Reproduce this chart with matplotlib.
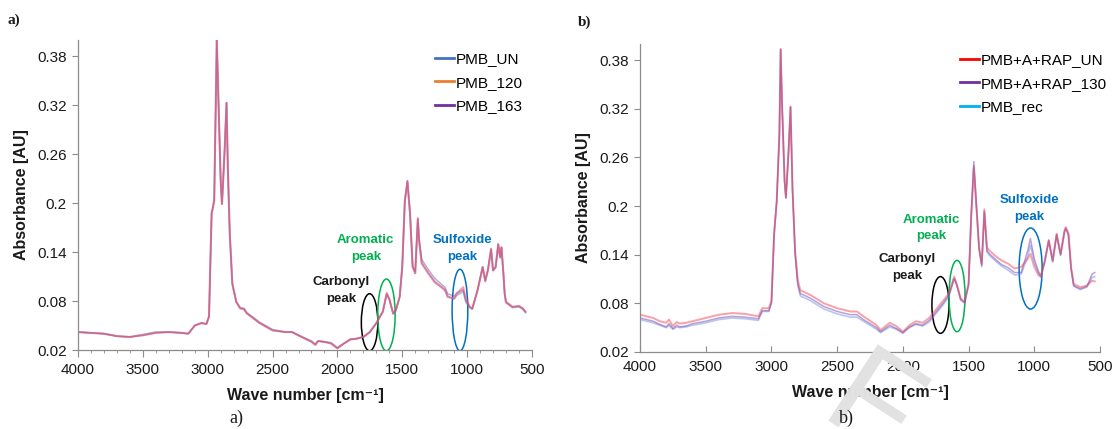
import matplotlib
matplotlib.use("Agg")
import matplotlib.pyplot as plt
from matplotlib.patches import Ellipse
from matplotlib.lines import Line2D

plt.rcParams['font.family'] = ['Liberation Sans', 'DejaVu Sans']

# ---------------- data: panel a ----------------
wn_a = [4000, 3900, 3800, 3700, 3600, 3500, 3400, 3300, 3200, 3150,
        3100, 3050, 3010, 2990, 2970, 2950, 2930, 2920, 2900, 2890,
        2870, 2855, 2845, 2830, 2810, 2780, 2750, 2720, 2700, 2600,
        2500, 2400, 2350, 2300, 2200, 2170, 2150, 2100, 2050, 2000,
        1950, 1900, 1850, 1800, 1750, 1700, 1650, 1620, 1600, 1570,
        1550, 1520, 1500, 1480, 1460, 1440, 1420, 1400, 1380, 1370,
        1350, 1300, 1250, 1200, 1170, 1150, 1100, 1080, 1030, 1010,
        980, 960, 920, 880, 860, 840, 815, 800, 780, 760,
        745, 735, 720, 710, 700, 650, 600, 570, 550]

pmb_un = [0.042, 0.041, 0.040, 0.037, 0.036, 0.039, 0.042, 0.042, 0.041, 0.040,
          0.050, 0.053, 0.052, 0.061, 0.187, 0.203, 0.400, 0.341, 0.227, 0.199,
          0.264, 0.323, 0.244, 0.162, 0.101, 0.079, 0.072, 0.071, 0.066, 0.054,
          0.045, 0.042, 0.042, 0.038, 0.031, 0.027, 0.031, 0.030, 0.029, 0.023,
          0.028, 0.033, 0.034, 0.036, 0.042, 0.053, 0.067, 0.088, 0.082, 0.064,
          0.068, 0.085, 0.122, 0.203, 0.226, 0.187, 0.122, 0.114, 0.180, 0.154,
          0.127, 0.115, 0.104, 0.098, 0.094, 0.086, 0.083, 0.087, 0.092, 0.079,
          0.072, 0.070, 0.093, 0.121, 0.104, 0.117, 0.143, 0.117, 0.121, 0.149,
          0.133, 0.145, 0.113, 0.088, 0.078, 0.072, 0.073, 0.070, 0.066]

pmb_120 = [0.042, 0.041, 0.040, 0.037, 0.036, 0.038, 0.041, 0.042, 0.041, 0.040,
           0.050, 0.053, 0.052, 0.061, 0.187, 0.203, 0.400, 0.341, 0.227, 0.199,
           0.264, 0.323, 0.244, 0.162, 0.101, 0.079, 0.071, 0.070, 0.065, 0.053,
           0.044, 0.042, 0.042, 0.038, 0.030, 0.026, 0.031, 0.030, 0.028, 0.022,
           0.028, 0.033, 0.034, 0.036, 0.042, 0.053, 0.067, 0.090, 0.083, 0.065,
           0.069, 0.085, 0.122, 0.203, 0.227, 0.187, 0.122, 0.114, 0.181, 0.154,
           0.126, 0.114, 0.103, 0.097, 0.093, 0.085, 0.083, 0.089, 0.097, 0.083,
           0.073, 0.071, 0.093, 0.122, 0.105, 0.118, 0.144, 0.118, 0.122, 0.150,
           0.134, 0.146, 0.114, 0.089, 0.079, 0.073, 0.074, 0.071, 0.067]

pmb_163 = [0.042, 0.041, 0.040, 0.037, 0.036, 0.038, 0.041, 0.042, 0.041, 0.040,
           0.050, 0.053, 0.052, 0.061, 0.187, 0.203, 0.400, 0.341, 0.227, 0.199,
           0.264, 0.323, 0.244, 0.162, 0.101, 0.079, 0.071, 0.070, 0.065, 0.053,
           0.044, 0.042, 0.042, 0.038, 0.030, 0.027, 0.031, 0.030, 0.028, 0.022,
           0.028, 0.033, 0.034, 0.036, 0.042, 0.053, 0.067, 0.089, 0.083, 0.065,
           0.069, 0.085, 0.122, 0.203, 0.228, 0.188, 0.123, 0.116, 0.182, 0.156,
           0.131, 0.119, 0.108, 0.101, 0.097, 0.089, 0.086, 0.090, 0.094, 0.081,
           0.073, 0.071, 0.093, 0.122, 0.105, 0.118, 0.144, 0.118, 0.122, 0.150,
           0.134, 0.146, 0.114, 0.089, 0.079, 0.073, 0.074, 0.071, 0.067]

# ---------------- data: panel b ----------------
wn_b = [4000, 3950, 3900, 3850, 3800, 3780, 3750, 3720, 3700, 3650,
        3600, 3500, 3400, 3300, 3200, 3100, 3070, 3020, 3000, 2980,
        2960, 2940, 2930, 2920, 2900, 2890, 2870, 2855, 2840, 2820,
        2800, 2780, 2750, 2700, 2600, 2500, 2400, 2350, 2300, 2200,
        2170, 2100, 2050, 2000, 1950, 1900, 1850, 1800, 1750, 1700,
        1650, 1610, 1590, 1560, 1530, 1500, 1480, 1460, 1440, 1420,
        1400, 1380, 1360, 1340, 1300, 1250, 1200, 1150, 1100, 1050,
        1030, 1000, 970, 950, 920, 890, 860, 830, 800, 770,
        760, 740, 720, 700, 650, 600, 560, 540]

rap_un = [0.066, 0.064, 0.062, 0.058, 0.056, 0.060, 0.052, 0.057, 0.055, 0.056,
          0.058, 0.062, 0.066, 0.068, 0.067, 0.064, 0.074, 0.074, 0.084, 0.166,
          0.207, 0.288, 0.394, 0.329, 0.231, 0.211, 0.268, 0.323, 0.223, 0.145,
          0.109, 0.096, 0.094, 0.090, 0.080, 0.074, 0.070, 0.070, 0.064, 0.053,
          0.047, 0.056, 0.052, 0.045, 0.053, 0.058, 0.056, 0.062, 0.072, 0.082,
          0.092, 0.113, 0.104, 0.086, 0.082, 0.104, 0.186, 0.247, 0.198, 0.149,
          0.129, 0.196, 0.149, 0.145, 0.139, 0.133, 0.129, 0.123, 0.125, 0.135,
          0.141, 0.125, 0.115, 0.113, 0.133, 0.158, 0.133, 0.166, 0.141, 0.170,
          0.174, 0.166, 0.125, 0.104, 0.100, 0.102, 0.108, 0.107]

rap_130 = [0.062, 0.060, 0.058, 0.054, 0.051, 0.055, 0.049, 0.053, 0.051, 0.052,
           0.055, 0.058, 0.062, 0.064, 0.063, 0.061, 0.071, 0.071, 0.081, 0.165,
           0.206, 0.287, 0.393, 0.328, 0.230, 0.210, 0.267, 0.322, 0.221, 0.142,
           0.105, 0.092, 0.090, 0.086, 0.076, 0.070, 0.066, 0.066, 0.060, 0.050,
           0.045, 0.053, 0.049, 0.044, 0.051, 0.055, 0.053, 0.059, 0.069, 0.079,
           0.090, 0.111, 0.103, 0.085, 0.081, 0.104, 0.190, 0.255, 0.200, 0.148,
           0.127, 0.194, 0.145, 0.141, 0.135, 0.128, 0.124, 0.118, 0.118, 0.145,
           0.160, 0.135, 0.120, 0.114, 0.132, 0.158, 0.132, 0.165, 0.140, 0.169,
           0.173, 0.165, 0.123, 0.102, 0.098, 0.101, 0.116, 0.118]

pmb_rec = [0.060, 0.058, 0.056, 0.053, 0.050, 0.053, 0.048, 0.051, 0.050, 0.051,
           0.053, 0.056, 0.060, 0.062, 0.061, 0.059, 0.070, 0.070, 0.080, 0.164,
           0.205, 0.287, 0.393, 0.328, 0.230, 0.210, 0.267, 0.322, 0.220, 0.140,
           0.102, 0.089, 0.087, 0.083, 0.073, 0.067, 0.063, 0.063, 0.058, 0.048,
           0.044, 0.051, 0.048, 0.043, 0.050, 0.054, 0.052, 0.057, 0.067, 0.077,
           0.088, 0.110, 0.102, 0.084, 0.080, 0.103, 0.188, 0.250, 0.198, 0.146,
           0.125, 0.192, 0.143, 0.139, 0.133, 0.126, 0.121, 0.115, 0.116, 0.138,
           0.152, 0.130, 0.118, 0.112, 0.131, 0.157, 0.131, 0.164, 0.139, 0.168,
           0.172, 0.164, 0.122, 0.101, 0.097, 0.100, 0.112, 0.113]

y_ticks = [0.02, 0.08, 0.14, 0.2, 0.26, 0.32, 0.38]
y_tick_labels = ['0.02', '0.08', '0.14', '0.2', '0.26', '0.32', '0.38']
x_ticks = [4000, 3500, 3000, 2500, 2000, 1500, 1000, 500]

legend_a = ['PMB_UN', 'PMB_120', 'PMB_163']
legend_b = ['PMB+A+RAP_UN', 'PMB+A+RAP_130', 'PMB_rec']

GREEN = '#00B050'
BLUE = '#0070C0'
SPINE = '#8c8c8c'
TXT = '#1a1a1a'

fig = plt.figure(figsize=(11.18, 4.29), dpi=100)
ax_a = fig.add_axes([0.0698, 0.1841, 0.406, 0.7226])
ax_b = fig.add_axes([0.5725, 0.1795, 0.4114, 0.718])

# faint draft watermark behind the right panel
fig.text(0.777, 0.037, 'F', fontsize=95, color='#e2e2e2', rotation=-33,
         ha='center', va='center', zorder=0)

for ax in (ax_a, ax_b):
    ax.set_facecolor('none')
    for s in ('top', 'right'):
        ax.spines[s].set_visible(False)
    for s in ('left', 'bottom'):
        ax.spines[s].set_color(SPINE)
        ax.spines[s].set_linewidth(0.9)
    ax.set_xlim(4000, 500)
    ax.set_ylim(0.02, 0.40)
    ax.set_yticks(y_ticks)
    ax.set_yticklabels(y_tick_labels)
    ax.set_xticks(x_ticks)
    ax.set_xticklabels([str(v) for v in x_ticks])
    ax.tick_params(axis='y', direction='out', length=4, color=SPINE,
                   labelsize=11, labelcolor=TXT, pad=4)
    ax.set_ylabel('Absorbance [AU]', fontsize=11.5, fontweight='bold',
                  color=TXT, labelpad=6)
    ax.set_xlabel('Wave number [cm\u207b\u00b9]', fontsize=11.5,
                  fontweight='bold', color=TXT, labelpad=8)

ax_a.set_xticks(range(4000, 499, -100), minor=True)
ax_a.tick_params(axis='x', which='major', direction='out', length=5,
                 color=SPINE, labelsize=11, labelcolor=TXT, pad=4)
ax_a.tick_params(axis='x', which='minor', direction='out', length=2.5,
                 color=SPINE)
ax_b.tick_params(axis='x', which='major', direction='in', length=4,
                 color=SPINE, labelsize=11, labelcolor=TXT, pad=6)

# spectra, panel a
ax_a.plot(wn_a, pmb_un, color='#4472C4', lw=1.3, alpha=0.5)
ax_a.plot(wn_a, pmb_163, color='#7030A0', lw=1.0, alpha=0.45)
ax_a.plot(wn_a, pmb_120, color='#F25C6E', lw=1.5, alpha=0.6)

# spectra, panel b
ax_b.plot(wn_b, pmb_rec, color='#6f8fe8', lw=1.2, alpha=0.5)
ax_b.plot(wn_b, rap_130, color='#7030A0', lw=1.1, alpha=0.45)
ax_b.plot(wn_b, rap_un, color='#F04555', lw=1.4, alpha=0.5)

h_a = [Line2D([], [], color=c, lw=2) for c in ('#4472C4', '#ED7D31', '#7030A0')]
h_b = [Line2D([], [], color=c, lw=2) for c in ('#FF0000', '#7030A0', '#00B0F0')]
ax_a.legend(h_a, legend_a, loc='upper right', bbox_to_anchor=(1.0, 0.99),
            frameon=False, fontsize=11, handlelength=1.25, handletextpad=0.1,
            labelspacing=0.62, borderaxespad=0.2)
ax_b.legend(h_b, legend_b, loc='upper right', bbox_to_anchor=(1.035, 1.0),
            frameon=False, fontsize=11, handlelength=1.25, handletextpad=0.1,
            labelspacing=0.62, borderaxespad=0.2)

# annotations, panel a
kw = dict(ha='center', va='center', fontsize=9.5, fontweight='bold',
          linespacing=1.55)
ax_a.text(1970, 0.093, 'Carbonyl\npeak', color=TXT, **kw)
ax_a.text(1781, 0.144, 'Aromatic\npeak', color=GREEN, **kw)
ax_a.text(1037, 0.144, 'Sulfoxide\npeak', color=BLUE, **kw)
ax_a.add_patch(Ellipse((1752, 0.054), 127, 0.070, fill=False,
                       edgecolor='black', lw=1.1))
ax_a.add_patch(Ellipse((1622, 0.063), 134, 0.088, fill=False,
                       edgecolor=GREEN, lw=1.1))
ax_a.add_patch(Ellipse((1055, 0.069), 121, 0.100, fill=False,
                       edgecolor=BLUE, lw=1.1))

# annotations, panel b
ax_b.text(1970, 0.124, 'Carbonyl\npeak', color=TXT, **kw)
ax_b.text(1781, 0.173, 'Aromatic\npeak', color=GREEN, **kw)
ax_b.text(1038, 0.197, 'Sulfoxide\npeak', color=BLUE, **kw)
ax_b.add_patch(Ellipse((1714, 0.078), 130, 0.070, fill=False,
                       edgecolor='black', lw=1.1))
ax_b.add_patch(Ellipse((1588, 0.089), 122, 0.088, fill=False,
                       edgecolor=GREEN, lw=1.1))
ax_b.add_patch(Ellipse((1028, 0.123), 175, 0.100, fill=False,
                       edgecolor=BLUE, lw=1.1))

# panel tags and captions
fig.text(0.007, 0.952, 'a)', family=['Liberation Serif', 'DejaVu Serif'],
         fontweight='bold', fontsize=11, color=TXT, va='center')
fig.text(0.517, 0.947, 'b)', family=['Liberation Serif', 'DejaVu Serif'],
         fontweight='bold', fontsize=11, color=TXT, va='center')
fig.text(0.211, 0.025, 'a)', family=['Liberation Serif', 'DejaVu Serif'],
         fontsize=13, color=TXT, ha='center', va='center')
fig.text(0.757, 0.025, 'b)', family=['Liberation Serif', 'DejaVu Serif'],
         fontsize=13, color=TXT, ha='center', va='center')

fig.savefig('out.png', dpi=100)
